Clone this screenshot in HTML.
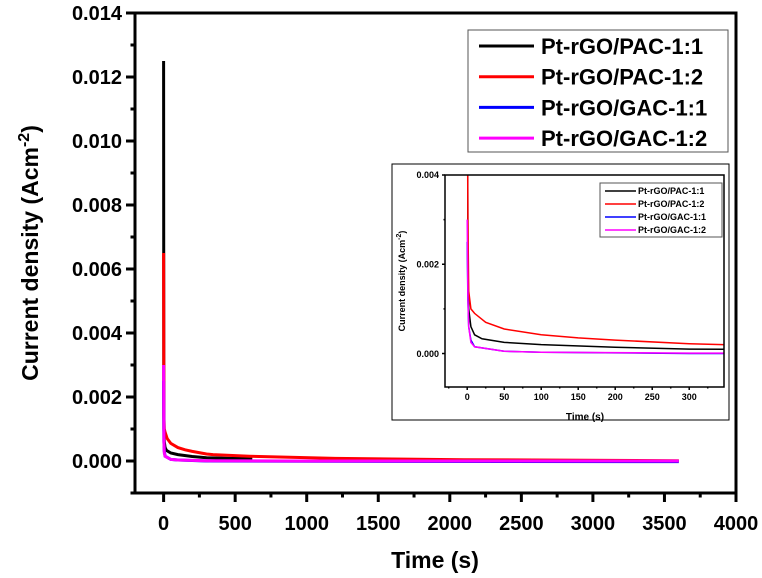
<!DOCTYPE html>
<html><head><meta charset="utf-8"><style>
html,body{margin:0;padding:0;background:#fff;}
svg{display:block;font-family:"Liberation Sans",Arial,sans-serif;font-weight:bold;}
</style></head><body>
<svg id="chart" width="762" height="578" viewBox="0 0 762 578" xmlns="http://www.w3.org/2000/svg"></svg>
<script>
const seriesNames = ["Pt-rGO/PAC-1:1","Pt-rGO/PAC-1:2","Pt-rGO/GAC-1:1","Pt-rGO/GAC-1:2"];
const seriesColors = ["#000000","#ff0000","#0000ff","#ff00ff"];
const blackT = [0,1,2,5,10,20,50,100,200,300,400,620];
const blackY = [0.0125,0.0022,0.0010,0.0006,0.00042,0.00033,0.00025,0.0002,0.00014,0.0001,0.00009,0.00007];
const redT = [0,1,2,5,10,25,50,100,150,200,300,345,600,1200,2100,3600];
const redY = [0.0065,0.003,0.0014,0.001,0.0009,0.0007,0.00055,0.00042,0.00035,0.0003,0.00022,0.0002,0.00015,0.00008,0.00004,0.00001];
const blueT = [0,1,2,5,10,50,100,300,1000,3600];
const blueY = [0.0025,0.0012,0.0006,0.0003,0.00015,0.00005,0.00003,0.0,-0.00001,-0.00002];
const pinkT = [0,1,2,5,10,50,100,300,1000,3600];
const pinkY = [0.003,0.0013,0.0006,0.00025,0.00015,0.00005,0.00003,0.00001,0.0,0.0];
const mainXTicks = [0,500,1000,1500,2000,2500,3000,3500,4000];
const mainYTicks = [0.000,0.002,0.004,0.006,0.008,0.010,0.012,0.014];
const insetXTicks = [0,50,100,150,200,250,300];
const insetYTicks = [0.000,0.002,0.004];

const svg = document.getElementById('chart');
const NS = 'http://www.w3.org/2000/svg';
function mk(tag, attrs, parent){const e=document.createElementNS(NS,tag);for(const k in attrs)e.setAttribute(k,attrs[k]);(parent||svg).appendChild(e);return e;}
const allT=[blackT,redT,blueT,pinkT], allY=[blackY,redY,blueY,pinkY];

function drawAxes(cfg){
  const {L,R,T,B,x0,x1,y0,y1,xt,yt,xMinor,yMinor,fs,tick,sw,dec,prefix,clipId}=cfg;
  const sx=v=>L+(v-x0)/(x1-x0)*(R-L), sy=v=>B-(v-y0)/(y1-y0)*(B-T);
  const g=mk('g',{});
  
  
  const cp=mk('clipPath',{id:clipId},g); mk('rect',{x:L,y:T,width:R-L,height:B-T},cp);
  const lines=mk('g',{'clip-path':'url(#'+clipId+')'},g);
  for(let s=0;s<4;s++){
    let d='';
    allT[s].forEach((t,i)=>{d+=(i?'L':'M')+sx(t).toFixed(1)+' '+sy(allY[s][i]).toFixed(1);});
    const p=mk('path',{d:d,fill:'none',stroke:seriesColors[s],'stroke-width':cfg.lw},lines);
    
    
  }
  const fr=mk('rect',{x:L,y:T,width:R-L,height:B-T,fill:'none',stroke:'#000','stroke-width':sw},g);
  
  
  xt.forEach(v=>{
    mk('line',{x1:sx(v),x2:sx(v),y1:B,y2:B+tick,stroke:'#000','stroke-width':sw},g);
    const t=mk('text',{x:sx(v),y:B+cfg.xlOff,'font-size':fs,'text-anchor':'middle'},g);
    t.textContent=v;
    
    
  });
  xMinor.forEach(v=>mk('line',{x1:sx(v),x2:sx(v),y1:B,y2:B+tick/2,stroke:'#000','stroke-width':sw},g));
  yt.forEach(v=>{
    mk('line',{x1:L-tick,x2:L,y1:sy(v),y2:sy(v),stroke:'#000','stroke-width':sw},g);
    const t=mk('text',{x:L-tick-cfg.ylOff,y:sy(v)+fs*0.36,'font-size':fs,'text-anchor':'end'},g);
    t.textContent=v.toFixed(3);
    
    
  });
  yMinor.forEach(v=>mk('line',{x1:L-tick/2,x2:L,y1:sy(v),y2:sy(v),stroke:'#000','stroke-width':sw},g));
  return g;
}
// inset outer frame
const ib=mk('rect',{x:392,y:164,width:337,height:256,fill:'#fff',stroke:'#000','stroke-width':1});



drawAxes({L:135,R:736,T:13,B:493,x0:-200,x1:4000,y0:-0.001,y1:0.014,xt:mainXTicks,yt:mainYTicks,
  xMinor:[250,750,1250,1750,2250,2750,3250,3750],yMinor:[-0.001,0.001,0.003,0.005,0.007,0.009,0.011,0.013],
  fs:20,tick:9,sw:3,lw:3,xlOff:37,ylOff:4,prefix:'main',clipId:'cm'});
svg.insertBefore(ib, null);
drawAxes({L:445,R:724,T:175,B:387,x0:-30,x1:347,y0:-0.00075,y1:0.004,xt:insetXTicks,yt:insetYTicks,
  xMinor:[-25,25,75,125,175,225,275,325],yMinor:[0.001,0.003],
  fs:9,tick:3,sw:1.5,lw:1.5,xlOff:13,ylOff:3,prefix:'inset',clipId:'ci'});

function txt(s,attrs,name){const t=mk('text',attrs);t.textContent=s;return t;}
txt('Time (s)',{x:435,y:568,'font-size':23,'text-anchor':'middle'},'x-axis-title');
const yt=txt('',{transform:'translate(38,253) rotate(-90)','font-size':23,'text-anchor':'middle'},'y-axis-title');
yt.innerHTML='Current density (Acm<tspan dy="-9" font-size="16">-2</tspan><tspan dy="9">)</tspan>';
txt('Time (s)',{x:585,y:420,'font-size':10,'text-anchor':'middle'},'inset-x-axis-title');
const yt2=txt('',{transform:'translate(405,281) rotate(-90)','font-size':9,'text-anchor':'middle'},'inset-y-axis-title');
yt2.innerHTML='Current density (Acm<tspan dy="-4" font-size="7">-2</tspan><tspan dy="4">)</tspan>';

function legend(x,y,w,h,rows,gap,l1,l2,tx,fs,lw,prefix){
  const g=mk('g',{});
  
  
  mk('rect',{x:x,y:y,width:w,height:h,fill:'#fff',stroke:'#555','stroke-width':1},g);
  seriesNames.forEach((n,i)=>{
    const yy=rows+i*gap;
    const e=mk('g',{},g);
    
    
    mk('line',{x1:l1,x2:l2,y1:yy,y2:yy,stroke:seriesColors[i],'stroke-width':lw},e);
    const t=mk('text',{x:tx,y:yy+fs*0.36,'font-size':fs},e);t.textContent=n;
  });
}
legend(468,30,260,122,46,30.7,479,534,541,22,3,'main');
legend(600,183,122,54,191,13,605,636,638,9,1.5,'inset');
</script>
</body></html>
